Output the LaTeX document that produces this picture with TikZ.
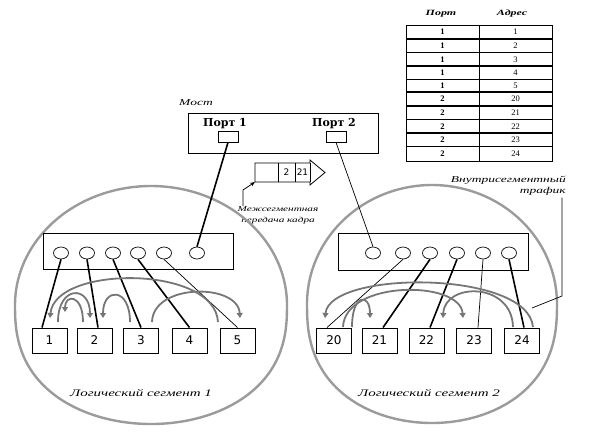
\documentclass[tikz,border=0pt]{standalone}
\usepackage{fontspec}
\setmainfont{Liberation Serif}
\newfontfamily\lblfont{Liberation Serif}[ItalicFeatures={FakeStretch=1.5},BoldItalicFeatures={FakeStretch=1.5}]
\newfontfamily\numfont{DejaVu Sans}
\newfontfamily\portfont{DejaVu Serif}
\usetikzlibrary{arrows.meta,shapes.geometric,calc}
\definecolor{segcol}{RGB}{155,155,155}
\definecolor{arccol}{RGB}{118,118,118}
\begin{document}
\begin{tikzpicture}[x=1pt,y=-1pt,
  station/.style={draw,line width=0.9pt,minimum width=35pt,minimum height=25pt,inner sep=0pt,font=\numfont\fontsize{12}{12}\selectfont},
  hubbox/.style={draw,line width=0.9pt,minimum width=190pt,minimum height=36pt,inner sep=0pt},
  hport/.style={draw,ellipse,line width=0.7pt,minimum width=15pt,minimum height=12pt,inner sep=0pt},
  prect/.style={draw,line width=0.8pt,minimum width=20pt,minimum height=11pt,inner sep=0pt},
  thicklink/.style={line width=1.6pt},
  thinlink/.style={line width=0.7pt},
  traffic/.style={draw=arccol,line width=1.8pt},
  traffica/.style={traffic,-{Triangle[width=6pt,length=5pt]}},
  segline/.style={draw=segcol,line width=2.4pt},
  lbl/.style={font=\lblfont\itshape\fontsize{9}{10.5}\selectfont,inner sep=0pt},
  tcell/.style={font=\fontsize{8}{8}\selectfont,inner sep=0pt},
]
\useasboundingbox (0,0) rectangle (598,434);

% ---------- table ----------
\node[font=\lblfont\bfseries\itshape\fontsize{8}{8}\selectfont,inner sep=0pt] (thP) at (441,14) {Порт};
\node[font=\lblfont\bfseries\itshape\fontsize{8}{8}\selectfont,inner sep=0pt] (thA) at (512,14) {Адрес};
\draw[line width=1pt] (406,25) rectangle (552,161);
\draw[line width=1pt] (479,25) -- (479,161);
\foreach \yy in {39,52.5,66,79.5,106,119.5,133,146.5}
  \draw[line width=1.1pt] (406,\yy) -- (552,\yy);
\draw[line width=2pt] (406,92) -- (552,92);
\foreach \yy/\p/\a in {32/1/1,45.75/1/2,59.25/1/3,72.75/1/4,85.75/1/5,99/2/20,112.75/2/21,126.25/2/22,139.75/2/23,153.75/2/24}{
  \node[tcell,font=\bfseries\fontsize{8.5}{8.5}\selectfont] at (442.5,\yy) {\p};
  \node[tcell,font=\fontsize{8.5}{8.5}\selectfont] at (515.5,\yy) {\a};
}

% ---------- bridge ----------
\node[lbl] (mostlbl) at (196,103) {Мост};
\node[draw,line width=0.9pt,minimum width=190pt,minimum height=40pt,inner sep=0pt] (bridge) at (283,133) {};
\node[font=\portfont\bfseries\fontsize{11}{11}\selectfont,inner sep=0pt] (bp1lbl) at (225,124) {Порт 1};
\node[font=\portfont\bfseries\fontsize{11}{11}\selectfont,inner sep=0pt] (bp2lbl) at (334,124) {Порт 2};
\node[prect] (bp1) at (228,136.5) {};
\node[prect] (bp2) at (336,136.5) {};

% ---------- frame ----------
\draw[line width=0.8pt] (255,163) -- (310,163) -- (310,160) -- (325,172.5) -- (310,185) -- (310,182) -- (255,182) -- cycle;
\draw[line width=0.8pt] (278,163) -- (278,182);
\draw[line width=0.8pt] (295,163) -- (295,182);
\draw[line width=0.8pt] (310,163) -- (310,182);
\node[font=\numfont\fontsize{9}{9}\selectfont,inner sep=0pt] (fa) at (286.5,172.5) {2};
\node[font=\numfont\fontsize{9}{9}\selectfont,inner sep=0pt] (fb) at (302.5,172.5) {21};
\coordinate (framecorner) at (255,182);
\node[lbl,font=\lblfont\itshape\fontsize{7.5}{10.5}\selectfont,align=center] (lblInter) at (278,215.5) {Межсегментная\\передача кадра};
\draw[line width=0.7pt,-{Stealth[length=5pt,width=4pt]}] (243,206) -- (243,190) -- (framecorner);

% ---------- segment outlines ----------
\draw[segline] plot[domain=0:180,samples=90,smooth] ({151+136*cos(\x)},{305+119*pow(sin(\x),0.8)})
  -- plot[domain=180:360,samples=90,smooth] ({151+136*cos(\x)},{305+119*sin(\x)}) -- cycle;
\draw[segline] plot[domain=0:180,samples=90,smooth] ({432+125*cos(\x)},{304+119*pow(sin(\x),0.8)})
  -- plot[domain=180:360,samples=90,smooth] ({432+125*cos(\x)},{304+119*sin(\x)}) -- cycle;

% ---------- left segment ----------
\node[hubbox] (hubL) at (138,251) {};
\foreach \i/\xx in {1/61,2/87,3/113,4/138,5/164,6/197}
  \node[hport] (pL\i) at (\xx,253) {};
\node[station] (s1) at (49.5,340.5) {1};
\node[station] (s2) at (94.5,340.5) {2};
\node[station] (s3) at (141,340.5) {3};
\node[station] (s4) at (189.5,340.5) {4};
\node[station] (s5) at (237.5,340.5) {5};
\draw[thicklink] (pL1.south) -- ([xshift=-7.5pt]s1.north);
\draw[thicklink] (pL2.south) -- ([xshift=3.5pt]s2.north);
\draw[thicklink] (pL3.south) -- (s3.north);
\draw[thicklink] (pL4.south) -- (s4.north);
\draw[thinlink] (pL5.south) -- (s5.north);
\draw[thicklink] (bp1.south) -- (pL6.north);
\node[lbl,font=\lblfont\itshape\fontsize{10}{10}\selectfont] (segL) at (141,393) {Логический сегмент 1};

% left traffic arcs
\draw[traffica] (218,322) .. controls (215,265) and (55,265) .. (50,318);
\draw[traffica] (58,322) .. controls (58,285) and (90,285) .. (90,318);
\draw[traffica] (83,322) .. controls (83,294) and (65,294) .. (65,312);
\draw[traffica] (130,322) .. controls (130,287) and (103,287) .. (103,318);
\draw[traffica] (152,322) .. controls (153,283) and (238,283) .. (240,318);

% ---------- right segment ----------
\node[hubbox,minimum height=37pt] (hubR) at (433,251.5) {};
\foreach \i/\xx in {1/373,2/403,3/430,4/457,5/483,6/509}
  \node[hport] (pR\i) at (\xx,253) {};
\node[station] (s20) at (334,340.5) {20};
\node[station] (s21) at (379.5,340.5) {21};
\node[station] (s22) at (426.5,340.5) {22};
\node[station] (s23) at (474,340.5) {23};
\node[station] (s24) at (522,340.5) {24};
\draw[thinlink] (bp2.south) -- (pR1.north);
\draw[thinlink] (pR2.south) -- ([xshift=-7pt]s20.north);
\draw[thicklink] (pR3.south) -- ([xshift=3.5pt]s21.north);
\draw[thicklink] (pR4.south) -- ([xshift=3.5pt]s22.north);
\draw[thinlink] (pR5.south) -- ([xshift=4pt]s23.north);
\draw[thicklink] (pR6.south) -- ([xshift=2pt]s24.north);
\node[lbl,font=\lblfont\itshape\fontsize{10}{10}\selectfont] (segR) at (429,393) {Логический сегмент 2};

% right traffic arcs
\draw[traffica] (533,327) .. controls (528,270) and (330,270) .. (325,318);
\draw[traffica] (343,327) .. controls (345,280) and (460,280) .. (463,318);
\draw[traffica] (513,327) .. controls (512,282) and (445,282) .. (443,318);
\draw[traffica] (352,327) .. controls (352,293) and (370,293) .. (370,318);

% intra-segment label
\node[lbl,align=right,anchor=east] (lblIntra) at (566,186) {Внутрисегментный\\трафик};
\coordinate (intraTip) at (532,308);
\draw[line width=0.7pt] ($(lblIntra.south east)+(-4,2)$) -- (562,296) -- (intraTip);
\end{tikzpicture}
\end{document}
